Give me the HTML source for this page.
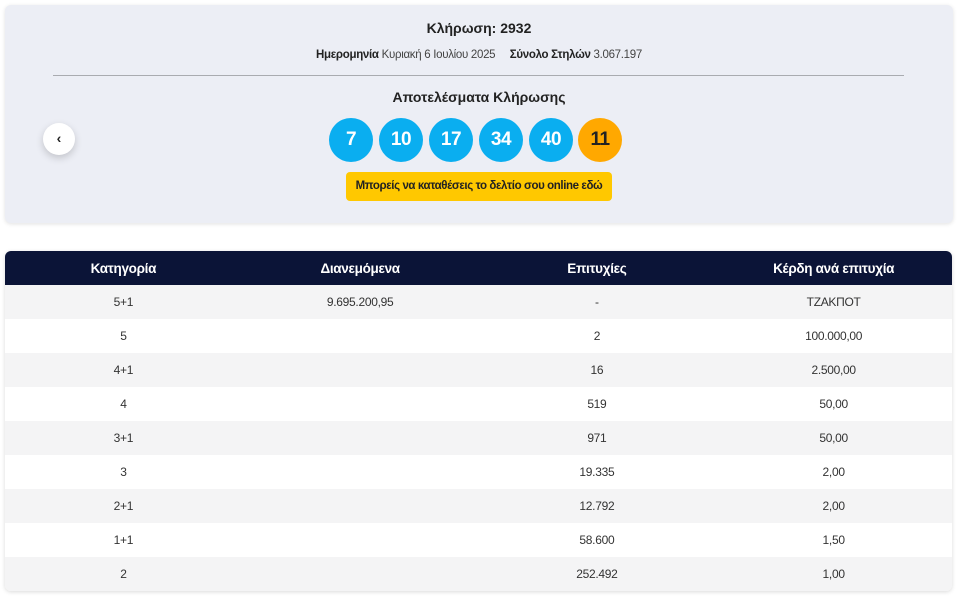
<!DOCTYPE html>
<html><head><meta charset="utf-8"><style>
*{box-sizing:border-box;margin:0;padding:0}
body{width:960px;height:600px;background:#fff;font-family:"Liberation Sans",sans-serif;color:#222;position:relative;overflow:hidden}
.card{position:absolute;left:5px;top:5px;width:948px;height:218px;background:#eceef5;border-radius:6px;box-shadow:0 1px 4px rgba(0,0,0,.12)}
.t{position:absolute;left:0;width:100%;text-align:center;white-space:nowrap}
.hr{position:absolute;left:48px;width:851px;top:70px;height:1px;background:#a9abb0}
.ball{position:absolute;top:113px;width:44px;height:44px;border-radius:50%;background:#0aaef0;color:#fff;font-weight:bold;font-size:19px;line-height:44px;text-align:center;letter-spacing:-0.5px}
.btn{position:absolute;left:341px;top:167px;width:266px;height:29px;background:#ffc800;border-radius:4px;font-size:11.5px;font-weight:bold;line-height:29px;text-align:center;color:#222;white-space:nowrap;letter-spacing:-0.4px}
.prev{position:absolute;left:38px;top:118px;width:32px;height:32px;border-radius:50%;background:#fff;box-shadow:0 3px 8px rgba(0,0,0,.18);text-align:center;line-height:31px;font-size:14px;font-weight:bold}
table{position:absolute;left:5px;top:251px;width:947px;border-collapse:collapse;box-shadow:0 1px 4px rgba(0,0,0,.15);border-radius:6px;overflow:hidden}
th{background:#0b1437;color:#fff;height:34px;font-size:13.5px;font-weight:bold;width:25%;letter-spacing:-0.3px}
td{height:34px;text-align:center;font-size:12px;color:#333;letter-spacing:-0.3px}
tr:nth-child(even) td{background:#f4f4f5}
tr:nth-child(odd) td{background:#fff}
</style></head><body>
<div class="card">
<div class="t" style="top:15px;font-size:14px;font-weight:bold">Κλήρωση: 2932</div>
<div class="t" style="top:44px;font-size:11.5px;color:#444;letter-spacing:-0.3px"><b style="color:#222">Ημερομηνία</b> Κυριακή 6 Ιουλίου 2025 &nbsp;&nbsp;&nbsp; <b style="color:#222">Σύνολο Στηλών</b> 3.067.197</div>
<div class="hr"></div>
<div class="t" style="top:84px;font-size:14px;font-weight:bold">Αποτελέσματα Κλήρωσης</div>
<div class="ball" style="left:324px">7</div>
<div class="ball" style="left:374px">10</div>
<div class="ball" style="left:424px">17</div>
<div class="ball" style="left:474px">34</div>
<div class="ball" style="left:524px">40</div>
<div class="ball" style="left:573px;background:#ffa800;color:#222">11</div>
<div class="btn">Μπορείς να καταθέσεις το δελτίο σου online εδώ</div>
<div class="prev">‹</div>
</div>
<table>
<tr><th>Κατηγορία</th><th>Διανεμόμενα</th><th>Επιτυχίες</th><th>Κέρδη ανά επιτυχία</th></tr>
<tr><td>5+1</td><td>9.695.200,95</td><td>-</td><td>ΤΖΑΚΠΟΤ</td></tr>
<tr><td>5</td><td></td><td>2</td><td>100.000,00</td></tr>
<tr><td>4+1</td><td></td><td>16</td><td>2.500,00</td></tr>
<tr><td>4</td><td></td><td>519</td><td>50,00</td></tr>
<tr><td>3+1</td><td></td><td>971</td><td>50,00</td></tr>
<tr><td>3</td><td></td><td>19.335</td><td>2,00</td></tr>
<tr><td>2+1</td><td></td><td>12.792</td><td>2,00</td></tr>
<tr><td>1+1</td><td></td><td>58.600</td><td>1,50</td></tr>
<tr><td>2</td><td></td><td>252.492</td><td>1,00</td></tr>
</table>
</body></html>
